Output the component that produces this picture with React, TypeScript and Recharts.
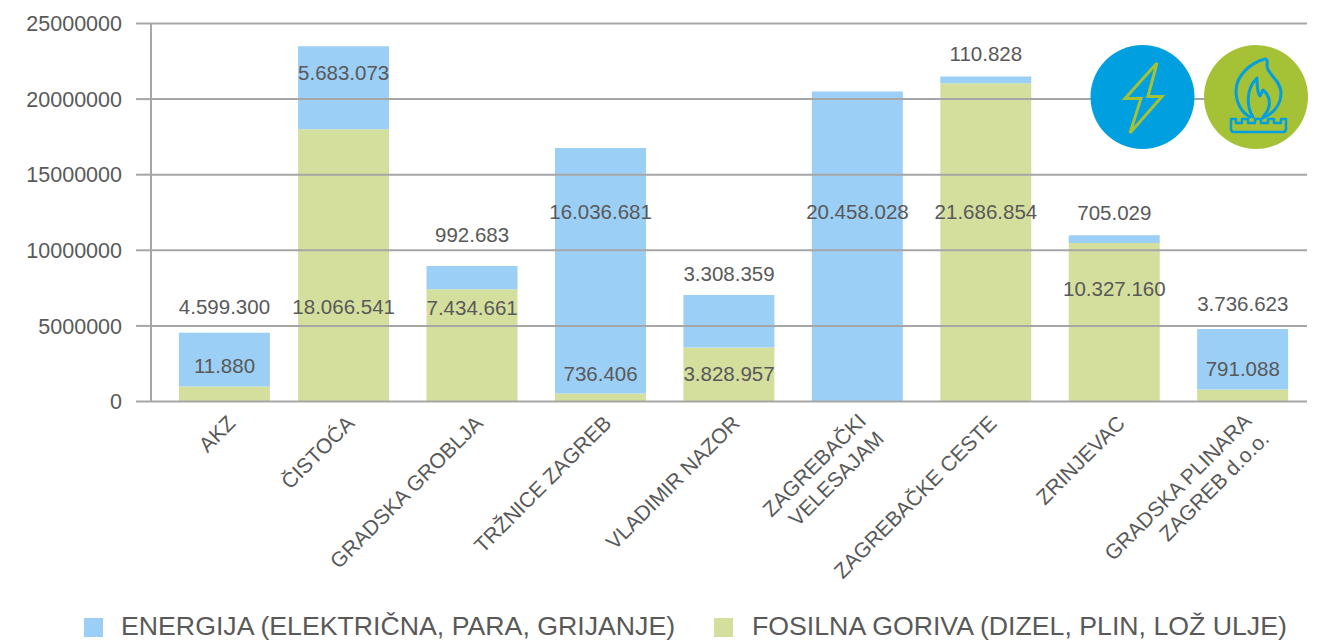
import React from "react";
import { ComposedChart, Bar, Line, XAxis, YAxis, ReferenceLine, LabelList, Legend } from "recharts";

const categories = ["AKZ", "ČISTOĆA", "GRADSKA GROBLJA", "TRŽNICE ZAGREB", "VLADIMIR NAZOR", "ZAGREBAČKI|VELESAJAM", "ZAGREBAČKE CESTE", "ZRINJEVAC", "GRADSKA PLINARA|ZAGREB d.o.o."];
const slots = [0.072, 1, 2, 3, 4, 5, 6, 7, 8];
const fosilna = [1000000, 18000000, 7430000, 530000, 3570000, 0, 21050000, 10480000, 790000];
const energija = [3550000, 5500000, 1530000, 16240000, 3470000, 20500000, 450000, 520000, 4000000];
const upperText = ["4.599.300", "5.683.073", "992.683", "16.036.681", "3.308.359", "20.458.028", "110.828", "705.029", "3.736.623"];
const upperAt = [6250000, 21730000, 11010000, 12530000, 8430000, 12530000, 22980000, 12470000, 6450000];
const lowerText = ["11.880", "18.066.541", "7.434.661", "736.406", "3.828.957", "", "21.686.854", "10.327.160", "791.088"];
const lowerAt = [2350000, 6250000, 6180000, 1820000, 1820000, null, 12530000, 7440000, 2150000];
const yTicks = [0, 5000000, 10000000, 15000000, 20000000, 25000000];
const gridValues = [5000000, 10000000, 15000000, 20000000, 25000000];
const seriesNames = ["ENERGIJA (ELEKTRIČNA, PARA, GRIJANJE)", "FOSILNA GORIVA (DIZEL, PLIN, LOŽ ULJE)"];

const data = categories.map((name, i) => ({
  name,
  slot: slots[i],
  fosilna: fosilna[i],
  energija: energija[i],
  upperText: upperText[i],
  upperAt: upperAt[i],
  lowerText: lowerText[i],
  lowerAt: lowerAt[i],
}));

const FONT = "'Liberation Sans', Arial, sans-serif";
const TEXT = "#595959";
const GRID = "#A6A6A6";
const BLUE = "#9CCFF5";
const GREEN = "#D4DF9E";

const CategoryTick = (props: any) => {
  const { x, y, payload } = props;
  const label = categories[slots.indexOf(payload.value)] ?? "";
  const lines = label.split("|");
  return (
    <g transform={`translate(${x + 12},${y + 15}) rotate(-45)`}>
      {lines.map((t, i) => (
        <text key={t} x={0} y={i * 25 + (lines.length > 1 ? -3 : 0)} textAnchor="end" fill={TEXT} fontSize={21} fontFamily={FONT}>
          {t}
        </text>
      ))}
    </g>
  );
};

const LegendContent = () => (
  <div style={{ position: "relative", height: 25, fontFamily: FONT, fontSize: 26.7, color: TEXT, lineHeight: "25px", whiteSpace: "nowrap" }}>
    <span style={{ position: "absolute", left: 84, top: 3, width: 19, height: 19, background: BLUE }} />
    <span style={{ position: "absolute", left: 121, top: -1 }}>{seriesNames[0]}</span>
    <span style={{ position: "absolute", left: 714, top: 3, width: 19, height: 19, background: GREEN }} />
    <span style={{ position: "absolute", left: 752, top: -1 }}>{seriesNames[1]}</span>
  </div>
);

const Icons = () => (
  <svg width={230} height={110} style={{ position: "absolute", left: 1085, top: 42 }} viewBox="1085 42 230 110">
    <circle cx={1142.5} cy={97} r={52} fill="#009FE0" />
    <path d="M1157 63 L1125 98.5 L1141 98.5 L1130 133 L1162 96.5 L1148 96.5 Z" fill="none" stroke="#A5C136" strokeWidth={3} strokeLinejoin="miter" />
    <circle cx={1256} cy={97} r={52} fill="#A5C136" />
    <g fill="none" stroke="#009FE0" strokeWidth={3} strokeLinejoin="round" strokeLinecap="round">
      <path d="M1250 117 C1241 112 1236 102 1236 91 C1236 76 1250 63 1265 59 C1268 59 1267 63 1267 66 C1267 74 1281 80 1281 93 C1281 104 1274 113 1263 118" />
      <path d="M1253 117 C1247 108 1245 90 1257 78 C1257 88 1258 94 1260 96 L1263 90 C1270 96 1273 106 1263 117" />
      <path d="M1231 119 L1231 129 Q1231 132 1234 132 L1283 132 Q1286 132 1286 129 L1286 119 L1281 119 L1281 123 L1274 123 L1274 119 L1268 119 L1268 123 L1261 123 L1261 119 L1255 119 L1255 123 L1248 123 L1248 119 L1242 119 L1242 123 L1236 123 L1236 119 Z" strokeWidth={2.5} />
    </g>
  </svg>
);

export default function App() {
  return (
    <div style={{ position: "absolute", left: 0, top: 0, width: 1321, height: 640, background: "#fff", overflow: "hidden" }}>
      <ComposedChart
        width={1321}
        height={640}
        data={data}
        margin={{ top: 23.5, right: 14, bottom: 0, left: 0 }}
        barSize={91}
      >
        <XAxis
          dataKey="slot"
          type="number"
          domain={[-0.5, 8.5]}
          ticks={slots}
          height={213.5}
          interval={0}
          tick={<CategoryTick />}
          tickLine={false}
          axisLine={{ stroke: GRID, strokeWidth: 2 }}
        />
        <YAxis
          width={151}
          domain={[0, 25000000]}
          ticks={yTicks}
          tickSize={15}
          tickMargin={14}
          tick={{ fill: TEXT, fontSize: 21.5, fontFamily: FONT }}
          tickLine={{ stroke: GRID, strokeWidth: 2 }}
          axisLine={{ stroke: GRID, strokeWidth: 2 }}
        />
        <Bar dataKey="fosilna" stackId="a" fill={GREEN} isAnimationActive={false} legendType="none" />
        <Bar dataKey="energija" stackId="a" fill={BLUE} isAnimationActive={false} legendType="none" />
        {gridValues.map((v) => (
          <ReferenceLine key={v} y={v} stroke={GRID} strokeWidth={2} />
        ))}
        <Line dataKey="upperAt" stroke="none" dot={false} activeDot={false} isAnimationActive={false} legendType="none">
          <LabelList dataKey="upperText" position="center" fill={TEXT} fontSize={20.5} fontFamily={FONT} />
        </Line>
        <Line dataKey="lowerAt" stroke="none" dot={false} activeDot={false} isAnimationActive={false} legendType="none">
          <LabelList dataKey="lowerText" position="center" fill={TEXT} fontSize={20.5} fontFamily={FONT} />
        </Line>
        <Legend height={25} content={<LegendContent />} wrapperStyle={{ left: 0, width: 1321 }} />
      </ComposedChart>
      <Icons />
    </div>
  );
}
